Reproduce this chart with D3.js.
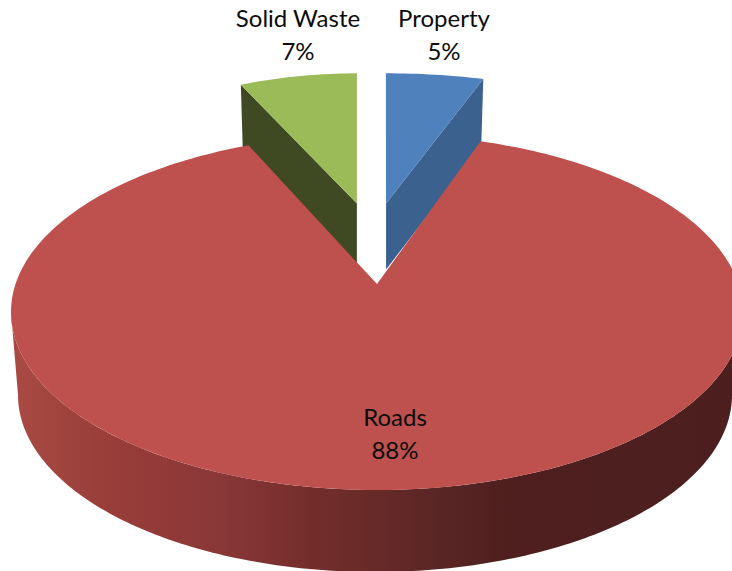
<!DOCTYPE html>
<html>
<head>
<meta charset="utf-8">
<style>
html,body{margin:0;padding:0;background:#fff;overflow:hidden}
svg{display:block}
text{font-family:Lato,"Open Sans",sans-serif;font-size:24px;fill:#0c0c0c;text-anchor:middle}
</style>
</head>
<body>
<svg id="chart" width="732" height="571"></svg>
<script src="https://cdn.jsdelivr.net/npm/d3@7"></script>
<script>
// Spending shares, clockwise from twelve o'clock
const categories = ["Property", "Roads", "Solid Waste"];
const shares = [5, 88, 7];
const topColors = ["#4F81BD", "#BE504D", "#9BBB59"];
const sideColors = ["#3B618E", null, "#3F4A22"];
const labelLines = [["Property", "5%"], ["Roads", "88%"], ["Solid Waste", "7%"]];
const labelAnchors = [[444, 27], [395, 426], [298, 27]];
const rimStops = [
  [20, "#a84a43"], [100, "#9a3e39"], [215, "#8a3738"], [300, "#742e2c"],
  [366, "#682a28"], [430, "#5a2625"], [500, "#4e1f1e"], [732, "#4c1f1e"]
];

const svg = d3.select("#chart");

// Tilted disc: a projective map of the unit circle onto an ellipse
const disc = {cx: 377, cy: 312, rx: 366, ry: 178};
const base = {cx: 375, cy: 395, rx: 357, ry: 177};
const tilt = -0.157;
const squeeze = Math.sqrt(1 - tilt * tilt);
const project = (X, Y) => {
  const w = 1 + tilt * Y;
  return [disc.cx + disc.rx * X * squeeze / w, disc.cy + disc.ry * (Y + tilt) / w];
};

const rotation = 1.2 * Math.PI / 180;
const arcs = d3.pie().sort(null).startAngle(rotation).endAngle(rotation + 2 * Math.PI)(shares);

// Pulled-out wedges: shift in the disc plane, small turn so the inner cut
// stands upright, and sideways foreshortening about the wedge apex
const pull = [[0.027, -0.5], [0, 0], [-0.06, -0.5]];
const turn = [-1.0, 0, -1.7].map(d => d * Math.PI / 180);
const widen = [1.07, 1, 0.92];
const wallDepth = 66;

function wedgePoints(a, i) {
  const off = pull[i];
  const start = a.startAngle + turn[i];
  const end = a.endAngle + turn[i];
  const apex = project(off[0], off[1]);
  const n = Math.max(2, Math.ceil((end - start) / 0.02));
  const rimPts = d3.range(n + 1).map(k => {
    const t = start + (end - start) * k / n;
    const p = project(Math.sin(t) + off[0], -Math.cos(t) + off[1]);
    return [apex[0] + (p[0] - apex[0]) * widen[i], p[1]];
  });
  return [apex].concat(rimPts);
}

const line = d3.line().curve(d3.curveLinear);

// Rim shading runs across the width of the disc
const wallExtent = [disc.cx - disc.rx, base.cx + base.rx];
const xToOffset = d3.scaleLinear().domain(wallExtent).range([0, 1]).clamp(true);
const grad = svg.append("defs").append("linearGradient")
  .attr("id", "rim").attr("x1", 0).attr("x2", 1).attr("y1", 0).attr("y2", 0)
  .attr("gradientUnits", "objectBoundingBox");
grad.selectAll("stop").data(rimStops).join("stop")
  .attr("offset", d => xToOffset(d[0]))
  .attr("stop-color", d => d[1]);

// Cut faces of the two pulled-out wedges, then their top faces
arcs.forEach((a, i) => {
  if (i === 1) return;
  const pts = wedgePoints(a, i);
  const apex = pts[0];
  const outer = i === 0 ? pts[pts.length - 1] : pts[1];
  const drift = i === 0 ? -2 : 2;
  svg.append("path")
    .attr("d", line([apex, outer, [outer[0] + drift, outer[1] + wallDepth], [apex[0], apex[1] + wallDepth]]) + "Z")
    .attr("fill", sideColors[i]);
  svg.append("path").attr("d", line(pts) + "Z").attr("fill", topColors[i]);
});

// Outer wall of the large slice
const frontAngles = d3.range(0, 181, 1).map(d => d * Math.PI / 180);
const wall = frontAngles.map(t => [disc.cx + disc.rx * Math.cos(t), disc.cy + disc.ry * Math.sin(t)])
  .concat(frontAngles.slice().reverse().map(t => [base.cx + base.rx * Math.cos(t), base.cy + base.ry * Math.sin(t)]));
svg.append("path").attr("d", line(wall) + "Z").attr("fill", "url(#rim)");

// Top face of the large slice
svg.append("path").attr("d", line(wedgePoints(arcs[1], 1)) + "Z").attr("fill", topColors[1]);

// Category and share labels
labelLines.forEach((lines, i) => {
  const t = svg.append("text").attr("data-category", categories[i]);
  lines.forEach((s, j) => t.append("tspan")
    .attr("x", labelAnchors[i][0]).attr("y", labelAnchors[i][1] + j * 32.5).text(s));
});
</script>
</body>
</html>
